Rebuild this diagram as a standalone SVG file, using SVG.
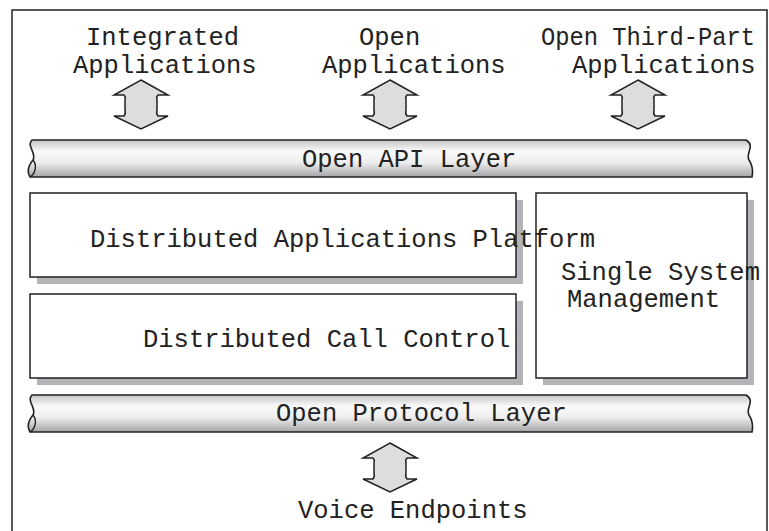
<svg xmlns="http://www.w3.org/2000/svg" width="769" height="531" viewBox="0 0 769 531">
<style>
.t{font-family:"Liberation Mono","Courier New",monospace;font-size:25.5px;fill:#222;}
.box{fill:#fff;stroke:#222;stroke-width:1.5;}
.sh{fill:#b4b4b8;}
.tube{fill:url(#tg);stroke:#222;stroke-width:1.6;}
.end{fill:none;stroke:#222;stroke-width:1.4;}
.arr{fill:#dcdddf;stroke:#222;stroke-width:1.5;stroke-linejoin:miter;}
</style>
<defs>
<linearGradient id="tg" x1="0" y1="0" x2="0" y2="1">
<stop offset="0" stop-color="#c4c4c6"/>
<stop offset="0.3" stop-color="#fafafa"/>
<stop offset="0.6" stop-color="#eeeeef"/>
<stop offset="1" stop-color="#a6a6a8"/>
</linearGradient>
<path id="dblarrow" d="M0,0 L27,15 L17,15 Q15,17 16,20 L16,30 Q15,34 17,36 L27,36 L0,49 L-27,36 L-17,36 Q-15,34 -16,30 L-16,20 Q-15,17 -17,15 L-27,15 Z"/>
</defs>
<rect x="0" y="0" width="769" height="531" fill="#fff"/>
<rect id="frame" x="12" y="10" width="755" height="540" fill="none" stroke="#222" stroke-width="1.5"/>

<g id="open-api-layer">
<path class="tube" d="M32,140 L746,140 C756,146 745,153 749,160 C753,166 753,172 752,177 L30,177 C27,172 28,166 33,160 C37,153 26,146 32,140 Z"/>
<path class="end" d="M33,160 C37,165 36,173 30,177"/>
<text class="t" x="302" y="167">Open API Layer</text>
</g>

<g id="open-protocol-layer">
<path class="tube" d="M32,395 L746,395 C756,401 745,408 749,415 C753,421 753,427 752,432 L30,432 C27,427 28,421 33,415 C37,408 26,401 32,395 Z"/>
<path class="end" d="M33,415 C37,420 36,428 30,432"/>
<text class="t" x="276" y="421">Open Protocol Layer</text>
</g>

<g id="distributed-applications-platform">
<rect class="sh" x="37" y="200" width="486" height="84"/>
<rect class="box" x="30" y="193" width="486" height="84"/>
</g>

<g id="distributed-call-control">
<rect class="sh" x="37" y="301" width="486" height="84"/>
<rect class="box" x="30" y="294" width="486" height="84"/>
<text class="t" x="143" y="347">Distributed Call Control</text>
</g>

<g id="single-system-management">
<rect class="sh" x="543" y="200" width="211" height="185"/>
<rect class="box" x="536" y="193" width="211" height="185"/>
<text class="t" x="561" y="280">Single System</text>
<text class="t" x="567" y="307">Management</text>
</g>

<text class="t" x="90" y="247">Distributed Applications Platform</text>

<g id="integrated-applications">
<text class="t" x="86" y="45">Integrated</text>
<text class="t" x="73" y="73">Applications</text>
</g>
<g id="open-applications">
<text class="t" x="359" y="45">Open</text>
<text class="t" x="322" y="73">Applications</text>
</g>
<g id="open-third-party-applications">
<text class="t" x="541" y="45" textLength="214" lengthAdjust="spacingAndGlyphs">Open Third-Part</text>
<text class="t" x="572" y="73">Applications</text>
</g>
<g id="voice-endpoints">
<text class="t" x="298" y="518">Voice Endpoints</text>
</g>

<g id="connectors">
<use href="#dblarrow" class="arr" transform="translate(141,80)"/>
<use href="#dblarrow" class="arr" transform="translate(390,80)"/>
<use href="#dblarrow" class="arr" transform="translate(638,80)"/>
<use href="#dblarrow" class="arr" transform="translate(390,443)"/>
</g>
</svg>
